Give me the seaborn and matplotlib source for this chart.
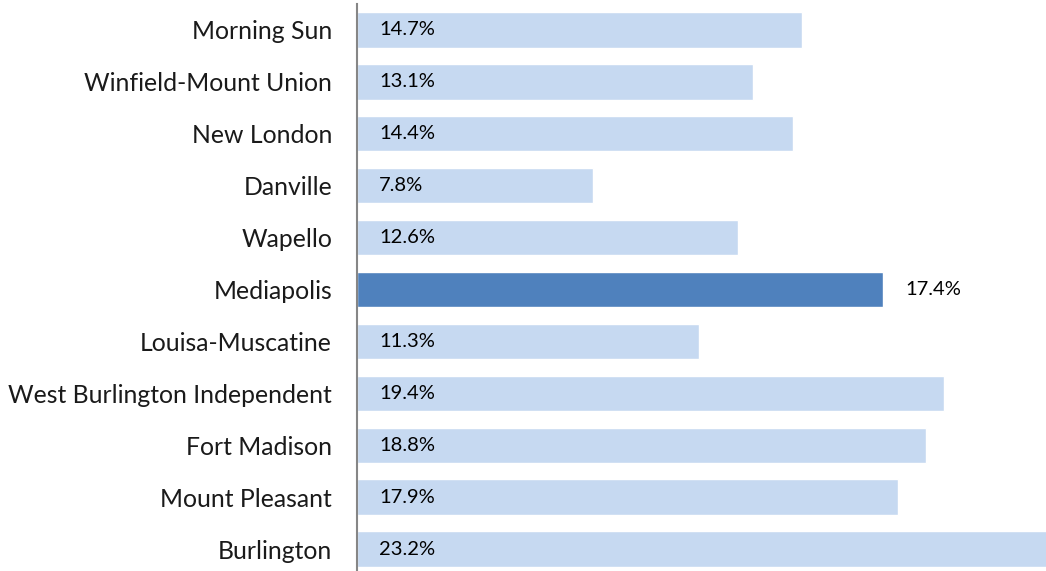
import matplotlib
matplotlib.use("Agg")
import matplotlib.pyplot as plt
import seaborn as sns
import pandas as pd

# data
districts = ["Morning Sun", "Winfield-Mount Union", "New London", "Danville",
             "Wapello", "Mediapolis", "Louisa-Muscatine",
             "West Burlington Independent", "Fort Madison", "Mount Pleasant",
             "Burlington"]
pct = [14.7, 13.1, 14.4, 7.8, 12.6, 17.4, 11.3, 19.4, 18.8, 17.9, 23.2]
highlight = "Mediapolis"

LIGHT = "#C6D9F1"
DARK = "#4F81BD"

df = pd.DataFrame({"district": districts, "pct": pct})
colors = {d: (DARK if d == highlight else LIGHT) for d in districts}

sns.set_style("white")
plt.rcParams["font.family"] = ["Lato", "DejaVu Sans"]

W, H = 1046, 571
fig = plt.figure(figsize=(W / 100, H / 100), dpi=100)
# axes runs a few pixels past the bottom edge, like the reference
ax = fig.add_axes([357 / W, -4 / H, 1 - 357 / W, 1.0])

sns.barplot(data=df, x="pct", y="district", hue="district", palette=colors,
            order=districts, width=0.68, legend=False, ax=ax, saturation=1)

ax.set_xlim(0, 22.78)
ax.set_ylim(len(districts) - 0.5, -0.5)
ax.set_xlabel("")
ax.set_ylabel("")
ax.set_xticks([])
for s in ["top", "right", "bottom"]:
    ax.spines[s].set_visible(False)
ax.spines["left"].set_color("#868686")
ax.spines["left"].set_linewidth(1.5)
ax.tick_params(axis="y", length=0, pad=18, labelsize=17.8, labelcolor="#1a1a1a")

# value labels: inside the bar near the axis, outside for the highlight
for i, (d, v) in enumerate(zip(districts, pct)):
    x0 = v if d == highlight else 0
    ax.annotate(f"{v}%", (x0, i), xytext=(16, 0), textcoords="offset points",
                va="center", ha="left", fontsize=14.5, color="black")

fig.savefig("out.png", dpi=100)
